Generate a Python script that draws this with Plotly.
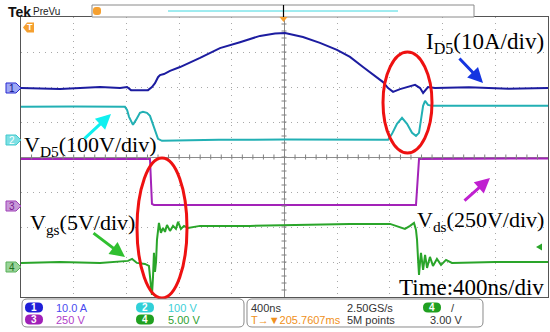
import plotly.graph_objects as go

# ---------------- data (time in ns, values in channel units) ----------------
# CH1: I_D5 (A)
t_ch1 = [-2000, -1704, -1400, -1248, -1195, -1165, -1036, -1006, -983, -960, -945, -915, -869,
         -793, -641, -490, -338, -186, -72, 4, 140, 269, 398, 497, 596, 687, 748, 786, 824, 877,
         953, 991, 1029, 1052, 1089, 1142, 1400, 1700, 2000]
v_ch1 = [0.0, -0.3, 0.3, 0.0, 0.3, -0.6, -0.6, 0.3, 1.4, 3.1, 3.7, 4.0, 4.9,
         6.0, 8.6, 11.4, 13.1, 14.9, 15.6, 15.7, 14.6, 12.9, 10.9, 8.9, 6.0, 3.4, 1.7, 0.0, -1.1, -0.3,
         0.6, 0.9, 0.0, -1.4, 0.3, 0.0, 0.2, -0.2, 0.0]

# CH2: V_D5 (V)
t_ch2 = [-2000, -1600, -1211, -1195, -1180, -1150, -1127, -1097, -1074, -1044, -1021, -998, -983,
         -960, -930, -500, 0, 500, 786, 816, 854, 892, 930, 968, 998, 1021, 1036, 1052, 1067,
         1089, 1120, 1180, 1600, 2000]
v_ch2 = [94.3, 95.5, 94.3, 85.7, 65.7, 42.9, 57.1, 77.1, 80.0, 77.1, 68.6, 45.7, 25.7,
         2.9, -2.9, 0.0, 1.0, 0.0, 0.0, 17.1, 45.7, 62.9, 45.7, 20.0, 11.4, 20.0, 62.9, 97.1, 111.4,
         100.0, 97.1, 97.1, 96.0, 97.1]

# CH3: V_ds (V)
t_ch3 = [-2000, -1021, -1006, -991, 998, 1014, 1021, 2000]
v_ch3 = [328.6, 328.6, 7.1, 0.0, 0.0, 285.0, 328.6, 332.0]

# CH4: V_gs (V)
t_ch4 = [-2000, -1704, -1400, -1248, -1188, -1157, -1120, -1059, -1029, -1013, -1006, -998, -991,
         -983, -975, -968, -960, -953, -938, -922, -907, -892, -869, -846, -824, -808, -786,
         -763, -732, -641, -262, 118, 497, 801, 861, 914, 953, 983, 998, 1006, 1014, 1021,
         1029, 1036, 1052, 1067, 1082, 1104, 1127, 1157, 1188, 1226, 1271, 1600, 2000]
v_ch4 = [0.57, 0.71, 0.57, 0.71, 0.86, 1.14, 0.57, 0.43, 0.14, -2.86, -4.0, -1.43, 2.0,
         -0.71, 0.71, 3.86, 5.29, 6.29, 4.86, 5.57, 5.0, 6.0, 5.14, 5.86, 5.43, 6.43, 5.43,
         5.86, 5.57, 5.86, 5.86, 6.0, 6.14, 6.14, 5.71, 5.43, 5.86, 6.29, 5.29, 3.86, 1.0, -1.14,
         0.71, 2.0, -0.43, 1.71, -0.14, 1.43, 0.14, 1.14, 0.29, 1.0, 0.57, 0.71, 0.71]

ch_scale = [10, 100, 250, 5]          # units per division
ch_offset_div = [1.97, 0.49, -1.37, -3.14]   # ground position (divisions from centre)
ch_colors = ["#1c1ca0", "#22b0b4", "#a322b8", "#2aa52a"]

# ---------------- pixel helpers ----------------
W, H = 550, 332
L, R, T, B = 21, 548, 17, 297


def X(px):
    return (px - L) / (R - L)


def Y(py):
    return (B - py) / (B - T)


def rrect(x0, y0, x1, y1, r):
    pts = [("M", x0 + r, y0), ("L", x1 - r, y0), ("Q", x1, y0, x1, y0 + r), ("L", x1, y1 - r),
           ("Q", x1, y1, x1 - r, y1), ("L", x0 + r, y1), ("Q", x0, y1, x0, y1 - r),
           ("L", x0, y0 + r), ("Q", x0, y0, x0 + r, y0)]
    s = ""
    for p in pts:
        cmd = p[0]
        coords = p[1:]
        s += cmd + " " + " ".join(f"{X(coords[i]):.5f},{Y(coords[i+1]):.5f}" for i in range(0, len(coords), 2)) + " "
    return s + "Z"


def poly(points):
    s = "M " + " L ".join(f"{X(a):.5f},{Y(b):.5f}" for a, b in points)
    return s + " Z"


def label(x, y, text, size, color, family="Liberation Sans", xanchor="left"):
    return dict(x=X(x), y=Y(y), xref="paper", yref="paper", text=text, showarrow=False,
                xanchor=xanchor, yanchor="middle", font=dict(family=family, size=size, color=color))


fig = go.Figure()
data = [(t_ch1, v_ch1), (t_ch2, v_ch2), (t_ch3, v_ch3), (t_ch4, v_ch4)]
for k, (tt, vv) in enumerate(data):
    fig.add_trace(go.Scatter(x=tt, y=vv, mode="lines", yaxis=f"y{k+2}",
                             line=dict(color=ch_colors[k], width=2), hoverinfo="skip",
                             showlegend=False))

layout_axes = {}
for k in range(4):
    s, o = ch_scale[k], ch_offset_div[k]
    layout_axes[f"yaxis{k+2}"] = dict(overlaying="y", visible=False,
                                      range=[(-4 - o) * s, (4 - o) * s])

shapes = []
annos = []

# centre crosshair minor ticks
for i in range(1, 50):
    xv = -2000 + i * 80
    shapes.append(dict(type="line", xref="x", yref="paper", x0=xv, x1=xv, y0=Y(154.5), y1=Y(159.5),
                       line=dict(color="#808080", width=1)))
for i in range(1, 40):
    yv = -4 + i * 0.2
    shapes.append(dict(type="line", xref="paper", yref="y", x0=X(281.5), x1=X(286.5), y0=yv, y1=yv,
                       line=dict(color="#808080", width=1)))

# red ellipses
shapes.append(dict(type="circle", xref="paper", yref="paper", x0=X(383), x1=X(432), y0=Y(153), y1=Y(52),
                   line=dict(color="#ee1111", width=3)))
shapes.append(dict(type="circle", xref="paper", yref="paper", x0=X(137), x1=X(187), y0=Y(298), y1=Y(158),
                   line=dict(color="#ee1111", width=3)))

# record bar at top
shapes.append(dict(type="rect", xref="paper", yref="paper", x0=X(92), x1=X(474), y0=Y(17), y1=Y(5),
                   line=dict(color="#8a8a8a", width=1), fillcolor="white"))
shapes.append(dict(type="line", xref="paper", yref="paper", x0=X(168), x1=X(398), y0=Y(11), y1=Y(11),
                   line=dict(color="#40d8e0", width=1)))
shapes.append(dict(type="path", xref="paper", yref="paper", path=rrect(93, 7, 101, 15, 3),
                   fillcolor="#f5a030", line=dict(width=0)))
shapes.append(dict(type="line", xref="paper", yref="paper", x0=X(283.5), x1=X(283.5), y0=Y(5), y1=Y(17),
                   line=dict(color="black", width=1.2)))
shapes.append(dict(type="path", xref="paper", yref="paper",
                   path=poly([(279.5, 17), (287.5, 17), (283.5, 22)]),
                   fillcolor="#f5a030", line=dict(width=0)))
# orange trigger T at left
shapes.append(dict(type="path", xref="paper", yref="paper",
                   path=poly([(23, 27.5), (27, 22.5), (34, 22.5), (34, 32.5), (27, 32.5)]),
                   fillcolor="#f5a030", line=dict(width=0)))
annos.append(label(29.5, 27.5, "<b>T</b>", 9, "white", xanchor="center"))

# trigger level marker on right
shapes.append(dict(type="path", xref="paper", yref="paper",
                   path=poly([(536, 247), (542, 243.5), (542, 250.5)]),
                   fillcolor="#2aa52a", line=dict(width=0)))

# channel ground markers on left
markers = [("1", 88, "#9ea8f5", "#2a2ad0", "#10108a"),
           ("2", 140, "#7ee0e4", "#40c8cc", "white"),
           ("3", 206, "#c898d8", "#a040b8", "#7a1a90"),
           ("4", 267, "#9ad49a", "#58b058", "#207020")]
for txt, yy, fill, border, fc in markers:
    shapes.append(dict(type="path", xref="paper", yref="paper",
                       path=poly([(6, yy - 5), (16, yy - 5), (21, yy), (16, yy + 5), (6, yy + 5)]),
                       fillcolor=fill, line=dict(color=border, width=1)))
    annos.append(label(12, yy, txt, 10, fc, xanchor="center"))

# Tek logo
annos.append(label(6, 11.5, "<b>Tek</b>", 14, "#111111"))
annos.append(label(31, 11, "PreVu", 10, "#222222"))

# big labels
serif = "Liberation Serif"
annos.append(label(546, 43, "I<sub>D5</sub>(10A/div)", 23, "black", serif, "right"))
annos.append(label(22, 146, "V<sub>D5</sub>(100V/div)", 22, "black", serif, "left"))
annos.append(label(28, 224, "V<sub>gs</sub>(5V/div)", 22, "black", serif, "left"))
annos.append(label(546, 221, "V<sub>ds</sub>(250V/div)", 22, "black", serif, "right"))
annos.append(label(546, 287, "Time:400ns/div", 23, "black", serif, "right"))

# arrows (head, tail in px)
arrows = [((483, 83), (458, 57), "#1535e0"),
          ((111, 114), (83, 140), "#10f0f0"),
          ((125, 257), (92, 232), "#30c030"),
          ((490, 178), (463, 202), "#c020d0")]
for (hx, hy), (tx, ty), c in arrows:
    annos.append(dict(x=X(hx), y=Y(hy), xref="paper", yref="paper", text="", showarrow=True,
                      ax=tx - hx, ay=ty - hy, arrowhead=2, arrowsize=1, arrowwidth=3, arrowcolor=c))

# bottom info panels
shapes.append(dict(type="path", xref="paper", yref="paper", path=rrect(22, 299, 244, 327, 5),
                   line=dict(color="#8a8a8a", width=1), fillcolor="white"))
shapes.append(dict(type="path", xref="paper", yref="paper", path=rrect(247, 299, 483, 327, 5),
                   line=dict(color="#8a8a8a", width=1), fillcolor="white"))
pills = [("1", 25, 43, 307.5, "#1f1fd8"), ("3", 25, 43, 319.5, "#a020b8"),
         ("2", 136, 154, 307.5, "#30d0d8"), ("4", 136, 154, 319.5, "#20a020"),
         ("4", 423, 441, 307.5, "#20a020")]
for txt, x0, x1, yc, c in pills:
    shapes.append(dict(type="path", xref="paper", yref="paper", path=rrect(x0, yc - 5, x1, yc + 5, 5),
                       fillcolor=c, line=dict(width=0)))
    annos.append(label((x0 + x1) / 2, yc, f"<b>{txt}</b>", 10, "white", xanchor="center"))

info = [("10.0 A", 54, 307.5, "#4a4af0"), ("250 V", 54, 319.5, "#b040c8"),
        ("100 V", 166, 307.5, "#40d0d8"), ("5.00 V", 166, 319.5, "#30a030"),
        ("400ns", 249, 307.5, "#333333"), ("2.50GS/s", 345, 307.5, "#333333"),
        ("5M points", 345, 319.5, "#333333"), ("/", 449, 307.5, "#333333"),
        ("3.00 V", 428, 319.5, "#333333"), ("T\u2192\u25bc205.7607ms", 249, 319.5, "#f09020")]
for txt, xx, yy, c in info:
    annos.append(label(xx, yy, txt, 11, c))

fig.update_layout(
    width=W, height=H,
    margin=dict(l=L, r=W - R, t=T, b=H - B, pad=0),
    paper_bgcolor="white", plot_bgcolor="white",
    showlegend=False,
    xaxis=dict(range=[-2000, 2000], dtick=400, tick0=-2000, showgrid=True, gridcolor="#a8a8a8",
               griddash="1px,5px", gridwidth=1, zeroline=True, zerolinecolor="#8c8c8c", zerolinewidth=1,
               showticklabels=False, ticks="", showline=True, linecolor="#555555", linewidth=1,
               mirror=True, fixedrange=True),
    yaxis=dict(range=[-4, 4], dtick=1, tick0=-4, showgrid=True, gridcolor="#a8a8a8",
               griddash="1px,5px", gridwidth=1, zeroline=True, zerolinecolor="#8c8c8c", zerolinewidth=1,
               showticklabels=False, ticks="", showline=True, linecolor="#555555", linewidth=1,
               mirror=True, fixedrange=True),
    shapes=shapes, annotations=annos,
    **layout_axes,
)

fig.write_html("out.html", config={"displayModeBar": False},
               post_script="document.body.style.margin='0px';")
